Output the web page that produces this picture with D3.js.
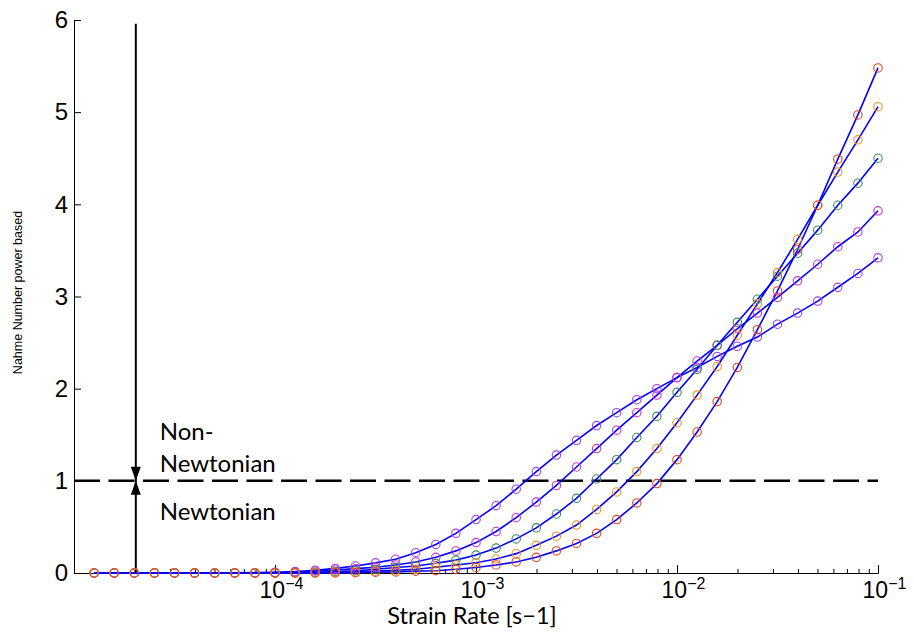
<!DOCTYPE html>
<html>
<head>
<meta charset="utf-8">
<script src="https://d3js.org/d3.v7.min.js"></script>
<style>
  body { margin: 0; background: #fff; }
  .tick text { font-family: "Liberation Sans", Arial, sans-serif; }
</style>
</head>
<body>
<div class="chart"></div>
<script>
var svgWidth = 914;
var svgHeight = 632;

var margin = { top: 20, right: 36, bottom: 59, left: 74 };

var width = svgWidth - margin.left - margin.right;
var height = svgHeight - margin.top - margin.bottom;

// strain rate exponents (x = 10^exp)
var rateExp = [-4.9, -4.8, -4.7, -4.6, -4.5, -4.4, -4.3, -4.2, -4.1, -4.0,
               -3.9, -3.8, -3.7, -3.6, -3.5, -3.4, -3.3, -3.2, -3.1, -3.0,
               -2.9, -2.8, -2.7, -2.6, -2.5, -2.4, -2.3, -2.2, -2.1, -2.0,
               -1.9, -1.8, -1.7, -1.6, -1.5, -1.4, -1.3, -1.2, -1.1, -1.0];

// nahme number for each run
var purpleRun = [0, 0, 0, 0, 0, 0, 0, 0.002, 0.004, 0.008,
                 0.015, 0.03, 0.05, 0.076, 0.11, 0.15, 0.22, 0.31, 0.43, 0.58,
                 0.73, 0.91, 1.10, 1.28, 1.44, 1.60, 1.74, 1.88, 2.00, 2.12,
                 2.23, 2.35, 2.46, 2.56, 2.70, 2.82, 2.95, 3.10, 3.25, 3.42];
var magentaRun = [0, 0, 0, 0, 0, 0, 0, 0, 0, 0.004,
                  0.008, 0.022, 0.033, 0.047, 0.062, 0.087, 0.12, 0.17, 0.24, 0.33,
                  0.45, 0.60, 0.77, 0.95, 1.15, 1.35, 1.55, 1.74, 1.93, 2.12,
                  2.30, 2.47, 2.65, 2.82, 2.99, 3.17, 3.35, 3.54, 3.70, 3.93];
var greenRun = [0, 0, 0, 0, 0, 0, 0, 0, 0, 0,
                0, 0.008, 0.015, 0.025, 0.04, 0.06, 0.076, 0.105, 0.14, 0.195,
                0.27, 0.37, 0.49, 0.64, 0.81, 1.02, 1.23, 1.47, 1.70, 1.96,
                2.21, 2.47, 2.72, 2.97, 3.22, 3.47, 3.72, 3.99, 4.23, 4.50];
var orangeRun = [0, 0, 0, 0, 0, 0, 0, 0, 0, 0,
                 0, 0, 0.008, 0.012, 0.02, 0.03, 0.04, 0.062, 0.087, 0.112,
                 0.152, 0.21, 0.30, 0.40, 0.52, 0.69, 0.88, 1.10, 1.35, 1.63,
                 1.93, 2.24, 2.58, 2.92, 3.26, 3.62, 3.99, 4.35, 4.70, 5.06];
var redRun = [0, 0, 0, 0, 0, 0, 0, 0, 0, 0,
              0, 0, 0, 0.004, 0.008, 0.012, 0.02, 0.025, 0.04, 0.06,
              0.087, 0.12, 0.17, 0.24, 0.32, 0.43, 0.58, 0.76, 0.97, 1.23,
              1.53, 1.86, 2.23, 2.64, 3.06, 3.51, 3.99, 4.49, 4.97, 5.48];

var runs = [purpleRun, magentaRun, greenRun, orangeRun, redRun];
var runColors = ["#a040f0", "#cc33cc", "#3c8c5c", "#f29322", "#e8401c"];

var yTicks = [0, 1, 2, 3, 4, 5, 6];
var xMajor = [1e-4, 1e-3, 1e-2, 1e-1];
var xMajorLabels = ["\u22124", "\u22123", "\u22122", "\u22121"];
var newtonLimit = 1;

var svg = d3.select(".chart")
  .append("svg")
  .attr("width", svgWidth)
  .attr("height", svgHeight)
  .style("font-family", "Lato, sans-serif");

var chart = svg.append("g")
  .attr("transform", "translate(" + margin.left + "," + margin.top + ")");

var xLogScale = d3.scaleLog()
  .domain([1e-5, 1e-1])
  .range([0, width]);

var yLinearScale = d3.scaleLinear()
  .domain([0, 6])
  .range([height, 0]);

// x axis with minor ticks pointing up
var minorTicks = xLogScale.ticks().filter(function(d) {
  return xMajor.indexOf(d) < 0;
});

var bottomAxis = d3.axisBottom(xLogScale)
  .tickValues(minorTicks)
  .tickSize(-4)
  .tickFormat("");
chart.append("g")
  .attr("transform", "translate(0," + height + ")")
  .call(bottomAxis);

var majorAxis = d3.axisBottom(xLogScale)
  .tickValues(xMajor)
  .tickSize(-8)
  .tickFormat("");
var majorG = chart.append("g")
  .attr("transform", "translate(0," + height + ")")
  .call(majorAxis);
majorG.select(".domain").remove();

majorG.selectAll(".tick")
  .append("text")
  .attr("fill", "#000")
  .attr("x", 6)
  .attr("y", 25)
  .attr("text-anchor", "middle")
  .style("font-size", "23px")
  .each(function(d, i) {
    var t = d3.select(this);
    t.append("tspan").text("10");
    t.append("tspan")
      .attr("dy", "-9")
      .style("font-size", "16px")
      .text(xMajorLabels[i]);
  });

var leftAxis = d3.axisLeft(yLinearScale)
  .tickValues(yTicks)
  .tickSize(-7)
  .tickPadding(6)
  .tickFormat(d3.format("d"));
var leftG = chart.append("g")
  .call(leftAxis);
leftG.selectAll("text")
  .attr("fill", "#000")
  .attr("x", -6)
  .style("font-size", "24px");

chart.selectAll(".domain").attr("stroke", "#000");
chart.selectAll(".tick line").attr("stroke", "#000");

// dashed newtonian limit
chart.append("line")
  .attr("x1", 0)
  .attr("x2", width)
  .attr("y1", yLinearScale(newtonLimit))
  .attr("y2", yLinearScale(newtonLimit))
  .attr("stroke", "#000")
  .attr("stroke-width", 2.5)
  .attr("stroke-dasharray", "26,8.5");

// vertical arrow
var arrowX = xLogScale(2.03e-5);
var limitY = yLinearScale(newtonLimit);
chart.append("line")
  .attr("x1", arrowX)
  .attr("x2", arrowX)
  .attr("y1", yLinearScale(5.96))
  .attr("y2", yLinearScale(0))
  .attr("stroke", "#000")
  .attr("stroke-width", 2);

chart.append("path")
  .attr("d", "M" + (arrowX - 5) + "," + (limitY - 14) + "L" + (arrowX + 5) + "," + (limitY - 14) + "L" + arrowX + "," + limitY + "Z")
  .attr("fill", "#000");
chart.append("path")
  .attr("d", "M" + (arrowX - 5) + "," + (limitY + 14) + "L" + (arrowX + 5) + "," + (limitY + 14) + "L" + arrowX + "," + limitY + "Z")
  .attr("fill", "#000");

// region labels
var labelX = xLogScale(2.67e-5);
chart.append("text")
  .attr("x", labelX)
  .attr("y", limitY - 41)
  .style("font-size", "24px")
  .text("Non-");
chart.append("text")
  .attr("x", labelX)
  .attr("y", limitY - 9)
  .style("font-size", "24px")
  .text("Newtonian");
chart.append("text")
  .attr("x", labelX)
  .attr("y", limitY + 39)
  .style("font-size", "24px")
  .text("Newtonian");

// lines
var line = d3.line()
  .x(function(d, i) { return xLogScale(Math.pow(10, rateExp[i])); })
  .y(function(d) { return yLinearScale(d); });

runs.forEach(function(run) {
  chart.append("path")
    .datum(run)
    .attr("d", line)
    .attr("fill", "none")
    .attr("stroke", "#0000ff")
    .attr("stroke-width", 1.6);
});

// markers
runs.forEach(function(run, r) {
  chart.append("g").selectAll("circle")
    .data(run)
    .enter().append("circle")
      .attr("cx", function(d, i) { return xLogScale(Math.pow(10, rateExp[i])); })
      .attr("cy", function(d) { return yLinearScale(d); })
      .attr("r", 4.2)
      .attr("fill", "none")
      .attr("stroke", runColors[r])
      .attr("stroke-width", 1.1);
});

// axis titles
chart.append("text")
  .attr("x", xLogScale(1e-3) - 4)
  .attr("y", height + 51)
  .attr("text-anchor", "middle")
  .style("font-size", "23.5px")
  .text("Strain Rate [s\u22121]");

chart.append("text")
  .attr("transform", "rotate(-90)")
  .attr("x", -(height / 2) + 4)
  .attr("y", -52)
  .attr("text-anchor", "middle")
  .style("font-family", "'Liberation Sans', Arial, sans-serif")
  .style("font-size", "12.5px")
  .text("Nahme Number power based");
</script>
</body>
</html>
